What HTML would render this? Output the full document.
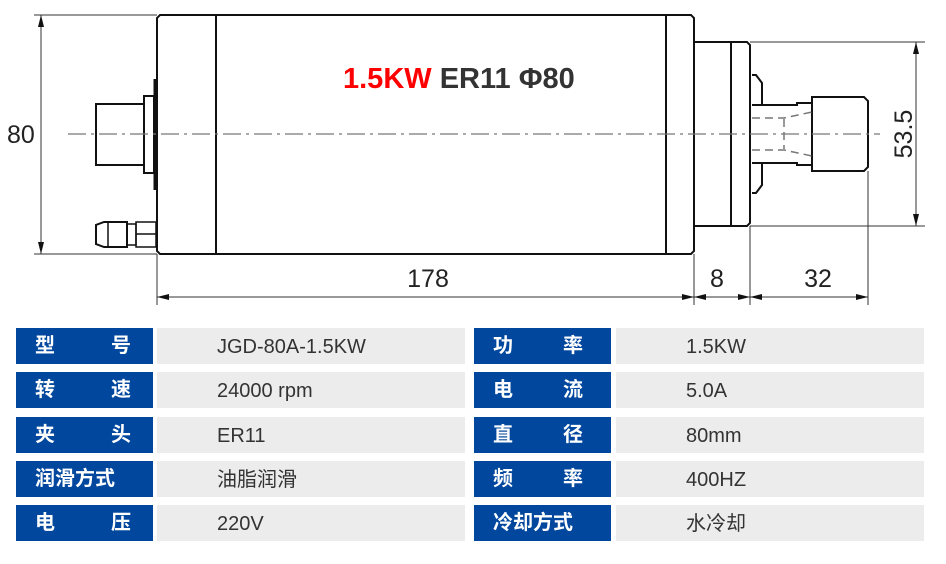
<!DOCTYPE html>
<html><head><meta charset="utf-8"><style>
html,body{margin:0;padding:0;background:#fff;width:946px;height:564px;overflow:hidden}
.c{position:absolute;box-sizing:border-box;font-family:"Liberation Sans","Noto Sans CJK SC",sans-serif;}
.l{background:#01479d;color:#fff;font-weight:bold;font-size:20px;line-height:36px;padding:0 22px 0 19px;display:flex;justify-content:space-between}
.l.f{justify-content:flex-start;letter-spacing:0px;padding-left:19px}
.v{background:#ececec;color:#333;font-size:20px;line-height:38px}
</style></head><body>
<svg width="946" height="564" style="position:absolute;left:0;top:0" xmlns="http://www.w3.org/2000/svg">
<g fill="none" stroke="#111" stroke-width="2">
<path d="M160 15 H691 L694 18 V251 L691 254 H160 L157 251 V18 Z"/>
<line x1="216" y1="15" x2="216" y2="254"/>
<line x1="666" y1="15" x2="666" y2="254"/>
<path d="M694 42 H747 L750 45 V223 L747 226 H694"/>
<line x1="731" y1="42" x2="731" y2="226"/>
<path d="M752 75 H756 L762 83 V105 M752 193 H756 L762 185 V163"/>
<path d="M752 105 H797 V103 H812 M752 163 H797 V165 H812"/>
<path d="M812 97 H864 L868 101 V167 L864 171 H812 Z"/>
<rect x="96" y="104" width="48" height="61"/>
<rect x="144" y="96" width="10" height="77"/>
<line x1="155" y1="79" x2="155" y2="190" stroke-width="3"/>
<path d="M104 222 H127 V247 H104 L96 244 V225 Z"/>
<line x1="108" y1="222" x2="108" y2="247" stroke-width="1.5"/>
<rect x="127" y="224" width="9" height="21" stroke-width="1.5"/>
<rect x="136" y="222" width="20" height="25" stroke-width="1.5"/>
<line x1="136" y1="234" x2="156" y2="234" stroke-width="1.5"/>
</g>
<g fill="none" stroke="#777" stroke-width="1.5" stroke-dasharray="8 5">
<path d="M752 118 H784 L812 112 M752 150 H784 L812 156 M784 119 V149"/>
</g>
<line x1="68" y1="134" x2="880" y2="134" stroke="#777" stroke-width="1.3" stroke-dasharray="18 5 3 5"/>
<g stroke="#333" stroke-width="1" fill="none">
<line x1="34" y1="15" x2="157" y2="15"/><line x1="34" y1="254" x2="157" y2="254"/>
<line x1="41" y1="15" x2="41" y2="254"/>
<line x1="157" y1="254" x2="157" y2="305"/><line x1="694" y1="254" x2="694" y2="305"/>
<line x1="750" y1="226" x2="750" y2="305"/><line x1="868" y1="171" x2="868" y2="305"/>
<line x1="157" y1="297" x2="868" y2="297"/>
<line x1="750" y1="42" x2="925" y2="42"/><line x1="750" y1="226" x2="925" y2="226"/>
<line x1="916" y1="42" x2="916" y2="226"/>
</g>
<g fill="#111">
<path d="M41 15 l-3 12 h6z M41 254 l-3 -12 h6z"/>
<path d="M916 42 l-3 12 h6z M916 226 l-3 -12 h6z"/>
<path d="M157 297 l12 -3 v6z M694 297 l-12 -3 v6z M694 297 l12 -3 v6z M750 297 l-12 -3 v6z M750 297 l12 -3 v6z M868 297 l-12 -3 v6z"/>
</g>
<g font-family="Liberation Sans, sans-serif" font-size="25" fill="#222">
<text x="7" y="143">80</text>
<text x="428" y="287" text-anchor="middle">178</text>
<text x="717" y="287" text-anchor="middle">8</text>
<text x="818" y="287" text-anchor="middle">32</text>
<text x="912" y="134" text-anchor="middle" transform="rotate(-90 912 134)">53.5</text>
</g>
<text x="343" y="88" font-family="Liberation Sans, sans-serif" font-weight="bold" font-size="29" fill="#333"><tspan fill="#f00">1.5KW</tspan> ER11 Φ80</text>
</svg>
<div class="c l" style="left:16px;top:328px;width:137px;height:36px"><span>型</span><span>号</span></div>
<div class="c v" style="left:157px;top:328px;width:308px;height:36px;padding-left:60px">JGD-80A-1.5KW</div>
<div class="c l" style="left:16px;top:372px;width:137px;height:36px"><span>转</span><span>速</span></div>
<div class="c v" style="left:157px;top:372px;width:308px;height:36px;padding-left:60px">24000 rpm</div>
<div class="c l" style="left:16px;top:417px;width:137px;height:36px"><span>夹</span><span>头</span></div>
<div class="c v" style="left:157px;top:417px;width:308px;height:36px;padding-left:60px">ER11</div>
<div class="c l f" style="left:16px;top:461px;width:137px;height:36px">润滑方式</div>
<div class="c v" style="left:157px;top:461px;width:308px;height:36px;padding-left:60px">油脂润滑</div>
<div class="c l" style="left:16px;top:505px;width:137px;height:36px"><span>电</span><span>压</span></div>
<div class="c v" style="left:157px;top:505px;width:308px;height:36px;padding-left:60px">220V</div>

<div class="c l" style="left:474px;top:328px;width:137px;height:36px;padding-right:28px"><span>功</span><span>率</span></div>
<div class="c v" style="left:616px;top:328px;width:308px;height:36px;padding-left:70px">1.5KW</div>
<div class="c l" style="left:474px;top:372px;width:137px;height:36px;padding-right:28px"><span>电</span><span>流</span></div>
<div class="c v" style="left:616px;top:372px;width:308px;height:36px;padding-left:70px">5.0A</div>
<div class="c l" style="left:474px;top:417px;width:137px;height:36px;padding-right:28px"><span>直</span><span>径</span></div>
<div class="c v" style="left:616px;top:417px;width:308px;height:36px;padding-left:70px">80mm</div>
<div class="c l" style="left:474px;top:461px;width:137px;height:36px;padding-right:28px"><span>频</span><span>率</span></div>
<div class="c v" style="left:616px;top:461px;width:308px;height:36px;padding-left:70px">400HZ</div>
<div class="c l f" style="left:474px;top:505px;width:137px;height:36px">冷却方式</div>
<div class="c v" style="left:616px;top:505px;width:308px;height:36px;padding-left:70px">水冷却</div>
</body></html>
